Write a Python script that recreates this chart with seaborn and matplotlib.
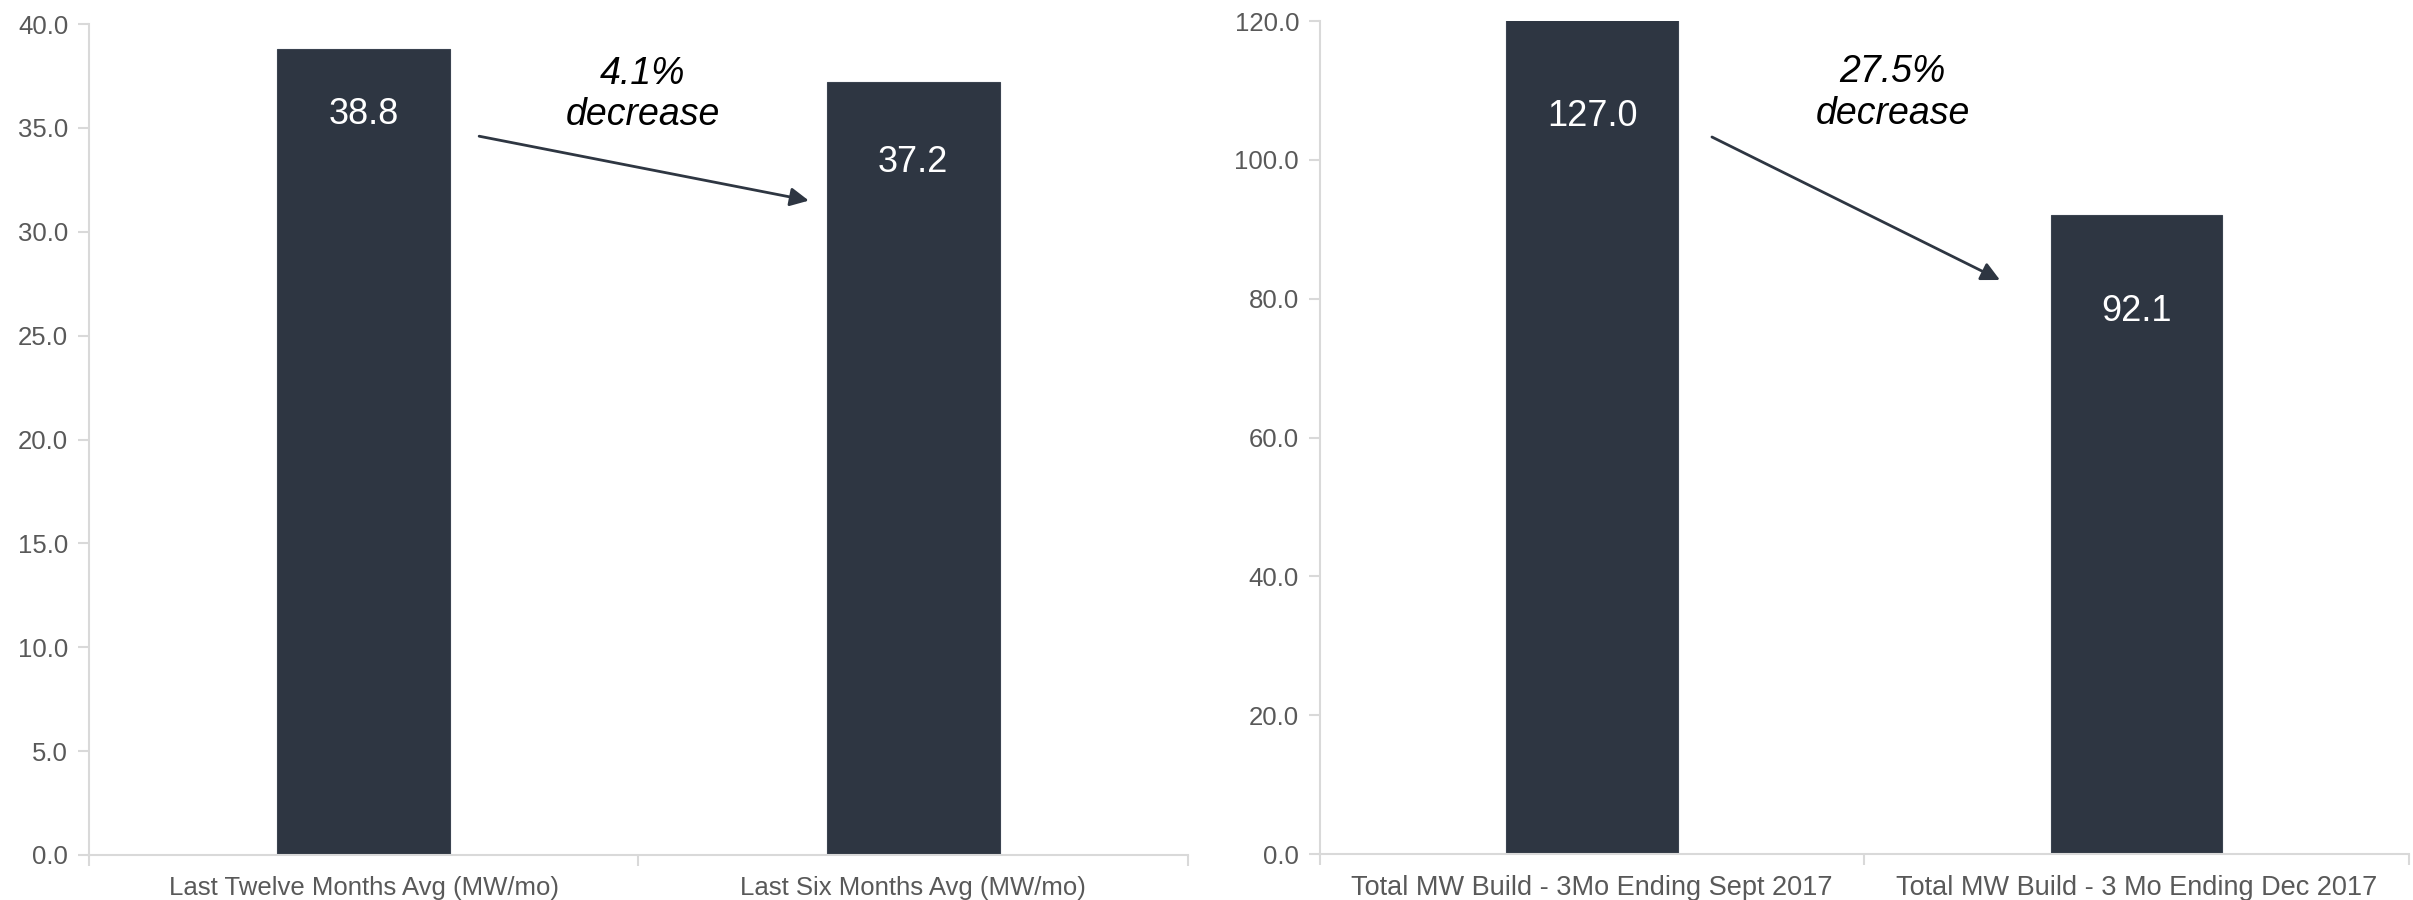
import pandas as pd
import matplotlib.pyplot as plt
import seaborn as sns

# data
left_labels = ['Last Twelve Months Avg (MW/mo)', 'Last Six Months Avg (MW/mo)']
left_values = [38.8, 37.2]
right_labels = ['Total MW Build - 3Mo Ending Sept 2017', 'Total MW Build - 3 Mo Ending Dec 2017']
right_values = [127.0, 92.1]
left_change = '4.1%\ndecrease'
right_change = '27.5%\ndecrease'

bar_color = '#2E3642'
grey_text = '#595959'
axis_grey = '#D9D9D9'

sns.set_theme(style='white')
plt.rcParams['font.family'] = ['Liberation Sans', 'DejaVu Sans']

fig = plt.figure(figsize=(24.13, 9), dpi=100)
ax1 = fig.add_axes([0.0369, 0.050, 0.4554, 0.9233])
ax2 = fig.add_axes([0.5470, 0.051, 0.4513, 0.9256])


def draw_panel(ax, labels, values, ymax, step, label_offsets, change_text, text_xy,
               arrow_from, arrow_to, xlabel_size):
    df = pd.DataFrame({'cat': labels, 'val': values})
    sns.barplot(data=df, x='cat', y='val', color=bar_color, saturation=1,
                width=0.315, ax=ax, edgecolor='#3A4350', linewidth=0.8)
    ax.set_ylim(0, ymax)
    ax.set_xlim(-0.5, 1.5)
    ax.set_yticks([i * step for i in range(int(ymax / step) + 1)])
    ax.set_yticklabels([f'{t:.1f}' for t in ax.get_yticks()])
    ax.set_xlabel('')
    ax.set_ylabel('')
    for s in ['top', 'right']:
        ax.spines[s].set_visible(False)
    for s in ['left', 'bottom']:
        ax.spines[s].set_color(axis_grey)
        ax.spines[s].set_linewidth(1.5)
    ax.tick_params(axis='y', which='major', left=True, length=8, width=1.5,
                   color=axis_grey, labelcolor=grey_text, labelsize=18.5, pad=7)
    ax.tick_params(axis='x', which='major', bottom=False, labelcolor=grey_text,
                   labelsize=xlabel_size, pad=9)
    ax.set_xticks([0, 1])
    ax.set_xticklabels(labels)
    ax.set_xticks([-0.5, 0.5, 1.5], minor=True)
    ax.tick_params(axis='x', which='minor', bottom=True, length=8, width=1.5,
                   color=axis_grey)

    # value labels inside the bars
    for i, v in enumerate(values):
        ax.annotate(f'{v:.1f}', xy=(i, min(v, ymax)), xytext=(0, -label_offsets[i]),
                    textcoords='offset points', ha='center', va='center',
                    color='white', fontsize=26, annotation_clip=False)

    ax.text(text_xy[0], text_xy[1], change_text, ha='center', va='center',
            fontsize=27, style='italic', color='black', linespacing=1.2)
    ax.annotate('', xy=arrow_to, xytext=arrow_from,
                arrowprops=dict(arrowstyle='-|>', color=bar_color, lw=2,
                                mutation_scale=28, shrinkA=0, shrinkB=0))


draw_panel(ax1, left_labels, left_values, 40, 5, [47, 58], left_change,
           (0.508, 36.6), (0.21, 34.6), (0.81, 31.5), 18.5)
draw_panel(ax2, right_labels, right_values, 120, 20, [69, 70], right_change,
           (0.552, 109.6), (0.22, 103.3), (0.749, 82.7), 19.5)

fig.savefig('out.png', dpi=100)
